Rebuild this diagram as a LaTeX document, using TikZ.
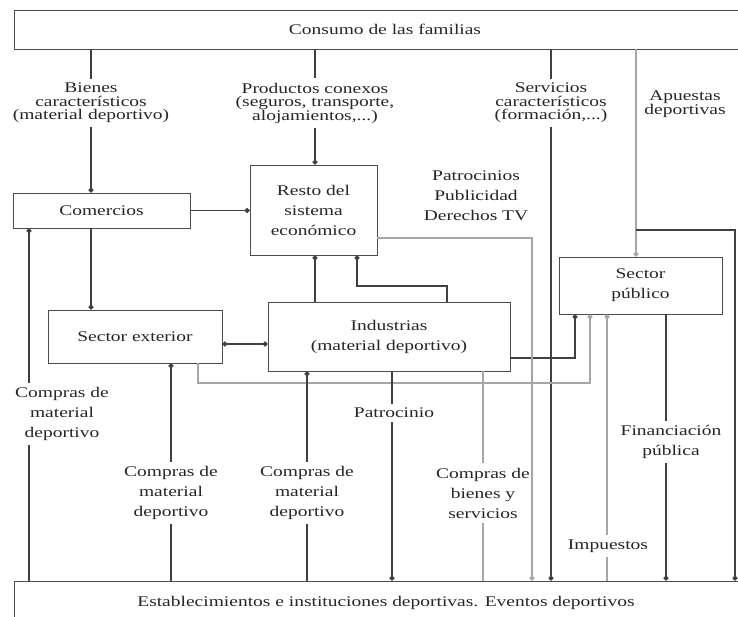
\documentclass[tikz,border=0pt]{standalone}
\usepackage{fontspec}
\setmainfont{Liberation Serif}[FakeStretch=1.32]
\usepackage{tikz}
\usetikzlibrary{positioning}
\usetikzlibrary{arrows.meta}
\usetikzlibrary{calc}
\tikzset{
  caja/.style={draw=black!70, line width=0.6pt, align=center, inner sep=0pt},
  flujo/.style={draw=black!75, line width=0.8pt},
  flujo-gris/.style={draw=black!35, line width=0.8pt},
  punto/.style={-{Circle[length=3.6pt]}},
  etiqueta/.style={align=center, fill=white, inner sep=3pt,
    font=\fontsize{10.5}{14.2}\selectfont},
  etiqueta-apretada/.style={etiqueta, font=\fontsize{10.5}{9.6}\selectfont},
}

\begin{document}
\begin{tikzpicture}[
  x=1cm, y=1cm,
  font=\fontsize{10.5}{14.2}\selectfont,
  every node/.append style={text=black!85},
]

  \useasboundingbox (0,0) rectangle (18.45,-15.4);

  % x positions of the vertical flows
  \coordinate (xbienes)       at ( 2.275, 0 );
  \coordinate (xconexos)      at ( 7.875, 0 );
  \coordinate (xservicios)    at (13.775, 0 );
  \coordinate (xapuestas)     at (15.9,   0 );
  \coordinate (xderecha)      at (18.375, 0 );
  \coordinate (xcompras1)     at ( 0.725, 0 );
  \coordinate (xcompras2)     at ( 4.275, 0 );
  \coordinate (xcompras3)     at ( 7.675, 0 );
  \coordinate (xpatrocinio)   at ( 9.8,   0 );
  \coordinate (xbienesserv)   at (12.075, 0 );
  \coordinate (ximpuestos)    at (15.175, 0 );
  \coordinate (xfinanciacion) at (16.65,  0 );
  \coordinate (xindustrias2)  at (11.175, 0 );

  % corners
  \coordinate (codo-resto)        at ( 8.925, -7.15  );
  \coordinate (codo-publico)      at (14.375, -8.95  );
  \coordinate (codo-gris)         at ( 4.95,  -9.575 );
  \coordinate (codo-gris2)        at (14.75,  -9.575 );
  \coordinate (codo-patrocinios)  at (13.3,   -5.95  );
  \coordinate (rama-apuestas)     at (15.9,   -5.75  );
  \coordinate (y-exterior)        at ( 0,     -8.6   );

  % Boxes
  \node[caja, minimum width=18.55cm, minimum height=0.975cm] (consumo)
    at (9.625, -0.7375) {Consumo de las familias};
  \node[caja, minimum width=18.6cm, minimum height=1.1cm] (fondo)
    at (9.65, -15.075) {Establecimientos e instituciones deportivas. Eventos deportivos};
  \node[caja, minimum width=4.425cm, minimum height=0.875cm] (comercios)
    at (2.5375, -5.2625) {Comercios};
  \node[caja, minimum width=3.175cm, minimum height=2.25cm] (resto)
    at (7.8375, -5.25) {Resto del\\sistema\\económico};
  \node[caja, minimum width=4.35cm, minimum height=1.325cm] (exterior)
    at (3.375, -8.4125) {Sector exterior};
  \node[caja, minimum width=6.05cm, minimum height=1.725cm] (industrias)
    at (9.725, -8.4125) {Industrias\\(material deportivo)};
  \node[caja, minimum width=4.075cm, minimum height=1.425cm] (publico)
    at (16.0125, -7.1375) {Sector\\público};

  % Labels
  \node[etiqueta-apretada] (l-bienes)    at ( 2.275, -2.575) {Bienes\\característicos\\(material deportivo)};
  \node[etiqueta-apretada] (l-conexos)   at ( 7.875, -2.575) {Productos conexos\\(seguros, transporte,\\alojamientos,...)};
  \node[etiqueta-apretada] (l-servicios) at (13.775, -2.575) {Servicios\\característicos\\(formación,...)};
  \node[etiqueta-apretada] (l-apuestas)  at (17.125, -2.6)   {Apuestas\\deportivas};
  \node[etiqueta] (l-patrocinios)  at (11.9,   -4.9)   {Patrocinios\\Publicidad\\Derechos TV};
  \node[etiqueta] (l-compras1)     at ( 1.55,  -10.35) {Compras de\\material\\deportivo};
  \node[etiqueta] (l-compras2)     at ( 4.275, -12.325) {Compras de\\material\\deportivo};
  \node[etiqueta] (l-compras3)     at ( 7.675, -12.325) {Compras de\\material\\deportivo};
  \node[etiqueta] (l-patrocinio)   at ( 9.85,  -10.325) {Patrocinio};
  \node[etiqueta] (l-bienesserv)   at (12.075, -12.325) {Compras de\\bienes y\\servicios};
  \node[etiqueta] (l-impuestos)    at (15.2,   -13.65) {Impuestos};
  \node[etiqueta] (l-financiacion) at (16.775, -11.05) {Financiación\\pública};

  % Flows from Consumo de las familias
  \draw[flujo] (consumo.south -| xbienes) -- (l-bienes.north);
  \draw[flujo, punto] (l-bienes.south) -- (comercios.north -| xbienes);
  \draw[flujo] (consumo.south -| xconexos) -- (l-conexos.north);
  \draw[flujo, punto] (l-conexos.south) -- (resto.north -| xconexos);
  \draw[flujo] (consumo.south -| xservicios) -- (l-servicios.north);
  \draw[flujo, punto] (l-servicios.south) -- (fondo.north -| xservicios);
  \draw[flujo-gris, punto] (consumo.south -| xapuestas) -- (publico.north -| xapuestas);
  \draw[flujo, punto] (rama-apuestas) -| (fondo.north -| xderecha);

  % Comercios
  \draw[flujo, punto] (comercios.east) -- (comercios.east -| resto.west);
  \draw[flujo, punto] (comercios.south -| xbienes) -- (exterior.north -| xbienes);
  \draw[flujo] (fondo.north -| xcompras1) -- (l-compras1.south -| xcompras1);
  \draw[flujo, punto] (l-compras1.north -| xcompras1) -- (comercios.south -| xcompras1);

  % Sector exterior
  \draw[flujo] (fondo.north -| xcompras2) -- (l-compras2.south);
  \draw[flujo, punto] (l-compras2.north) -- (exterior.south -| xcompras2);
  \draw[flujo, {Circle[length=3.6pt]}-{Circle[length=3.6pt]}]
    (exterior.east |- y-exterior) -- (industrias.west |- y-exterior);
  \draw[flujo-gris, punto] (exterior.south -| codo-gris) |- (codo-gris2)
    -- (publico.south -| codo-gris2);

  % Industrias
  \draw[flujo, punto] (industrias.north -| xconexos) -- (resto.south -| xconexos);
  \draw[flujo, punto] (industrias.north -| xindustrias2) |- (codo-resto)
    -- (resto.south -| codo-resto);
  \draw[flujo, punto] (industrias.east |- codo-publico) -| (publico.south -| codo-publico);
  \draw[flujo] (fondo.north -| xcompras3) -- (l-compras3.south);
  \draw[flujo, punto] (l-compras3.north) -- (industrias.south -| xcompras3);
  \draw[flujo] (industrias.south -| xpatrocinio) -- (l-patrocinio.north -| xpatrocinio);
  \draw[flujo, punto] (l-patrocinio.south -| xpatrocinio) -- (fondo.north -| xpatrocinio);
  \draw[flujo-gris] (industrias.south -| xbienesserv) -- (l-bienesserv.north);
  \draw[flujo-gris] (l-bienesserv.south) -- (fondo.north -| xbienesserv);

  % Resto del sistema economico
  \draw[flujo-gris, punto] (resto.east |- codo-patrocinios) -| (fondo.north -| codo-patrocinios);

  % Sector publico
  \draw[flujo-gris] (fondo.north -| ximpuestos) -- (l-impuestos.south -| ximpuestos);
  \draw[flujo-gris, punto] (l-impuestos.north -| ximpuestos) -- (publico.south -| ximpuestos);
  \draw[flujo] (publico.south -| xfinanciacion) -- (l-financiacion.north -| xfinanciacion);
  \draw[flujo, punto] (l-financiacion.south -| xfinanciacion) -- (fondo.north -| xfinanciacion);

\end{tikzpicture}
\end{document}
